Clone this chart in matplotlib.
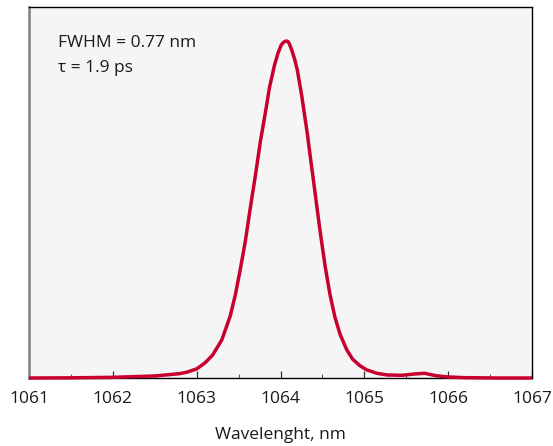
import matplotlib
matplotlib.use("Agg")
import matplotlib.pyplot as plt
from matplotlib.ticker import MultipleLocator

wavelength = [1061.0, 1061.5, 1062.0, 1062.5, 1062.8, 1062.88, 1063.0, 1063.1,
              1063.19, 1063.3, 1063.4, 1063.46, 1063.52, 1063.58, 1063.64,
              1063.7, 1063.76, 1063.82, 1063.87, 1063.93, 1063.97, 1064.01,
              1064.04, 1064.055, 1064.07, 1064.085, 1064.1, 1064.133, 1064.17,
              1064.2, 1064.253, 1064.32, 1064.352, 1064.39, 1064.432, 1064.47,
              1064.531, 1064.59, 1064.65, 1064.71, 1064.79, 1064.86, 1064.95,
              1065.03, 1065.15, 1065.27, 1065.45, 1065.6, 1065.72, 1065.85,
              1066.0, 1066.2, 1066.6, 1067.0]
intensity = [0.0, 0.0005, 0.002, 0.006, 0.013, 0.017, 0.027, 0.045,
             0.068, 0.113, 0.184, 0.245, 0.322, 0.405, 0.505,
             0.600, 0.702, 0.788, 0.864, 0.930, 0.964, 0.989,
             0.997, 0.999, 1.0, 0.999, 0.995, 0.974, 0.945,
             0.915, 0.838, 0.725, 0.663, 0.592, 0.512, 0.440,
             0.334, 0.248, 0.180, 0.130, 0.084, 0.056, 0.036,
             0.024, 0.014, 0.009, 0.008, 0.012, 0.014, 0.007,
             0.003, 0.001, 0.0, 0.0]
xticks = [1061, 1062, 1063, 1064, 1065, 1066, 1067]
annotation = ["FWHM = 0.77 nm", "τ = 1.9 ps"]
xlabel = "Wavelenght, nm"

plt.rcParams['font.family'] = ['Open Sans', 'DejaVu Sans']

fig = plt.figure(figsize=(5.53, 4.46), dpi=100)
ax = fig.add_axes([29/553, 68/446, 503/553, 371/446])
ax.set_facecolor('#F5F5F5')

ax.plot(wavelength, intensity, color='#C8002F', lw=2.5, clip_on=False,
        solid_joinstyle='round', solid_capstyle='butt', zorder=5)

ax.set_xlim(1061, 1067)
ax.set_ylim(0, 1.101)
ax.set_xticks(xticks)
ax.set_xticklabels([str(t) for t in xticks], fontsize=12.5, color='#1a1a1a')
ax.xaxis.set_minor_locator(MultipleLocator(0.5))
ax.tick_params(axis='x', which='major', direction='in', length=5, width=0.9,
               color='#333333', pad=9.5, top=False)
ax.tick_params(axis='x', which='minor', direction='in', length=2.6, width=0.8,
               color='#555555', top=False)
ax.set_yticks([])

ax.spines['left'].set_color('#808080')
ax.spines['left'].set_linewidth(1.8)
for s in ['top', 'right', 'bottom']:
    ax.spines[s].set_color('black')
    ax.spines[s].set_linewidth(1.0)

ax.set_xlabel(xlabel, fontsize=12.5, color='#1a1a1a', labelpad=14)

fig.text(58/553, (446-47)/446, annotation[0], fontsize=12.5, color='#1a1a1a',
         va='baseline', ha='left')
fig.text(58/553, (446-72)/446, annotation[1], fontsize=12.5, color='#1a1a1a',
         va='baseline', ha='left')

fig.savefig("out.png", dpi=100)
